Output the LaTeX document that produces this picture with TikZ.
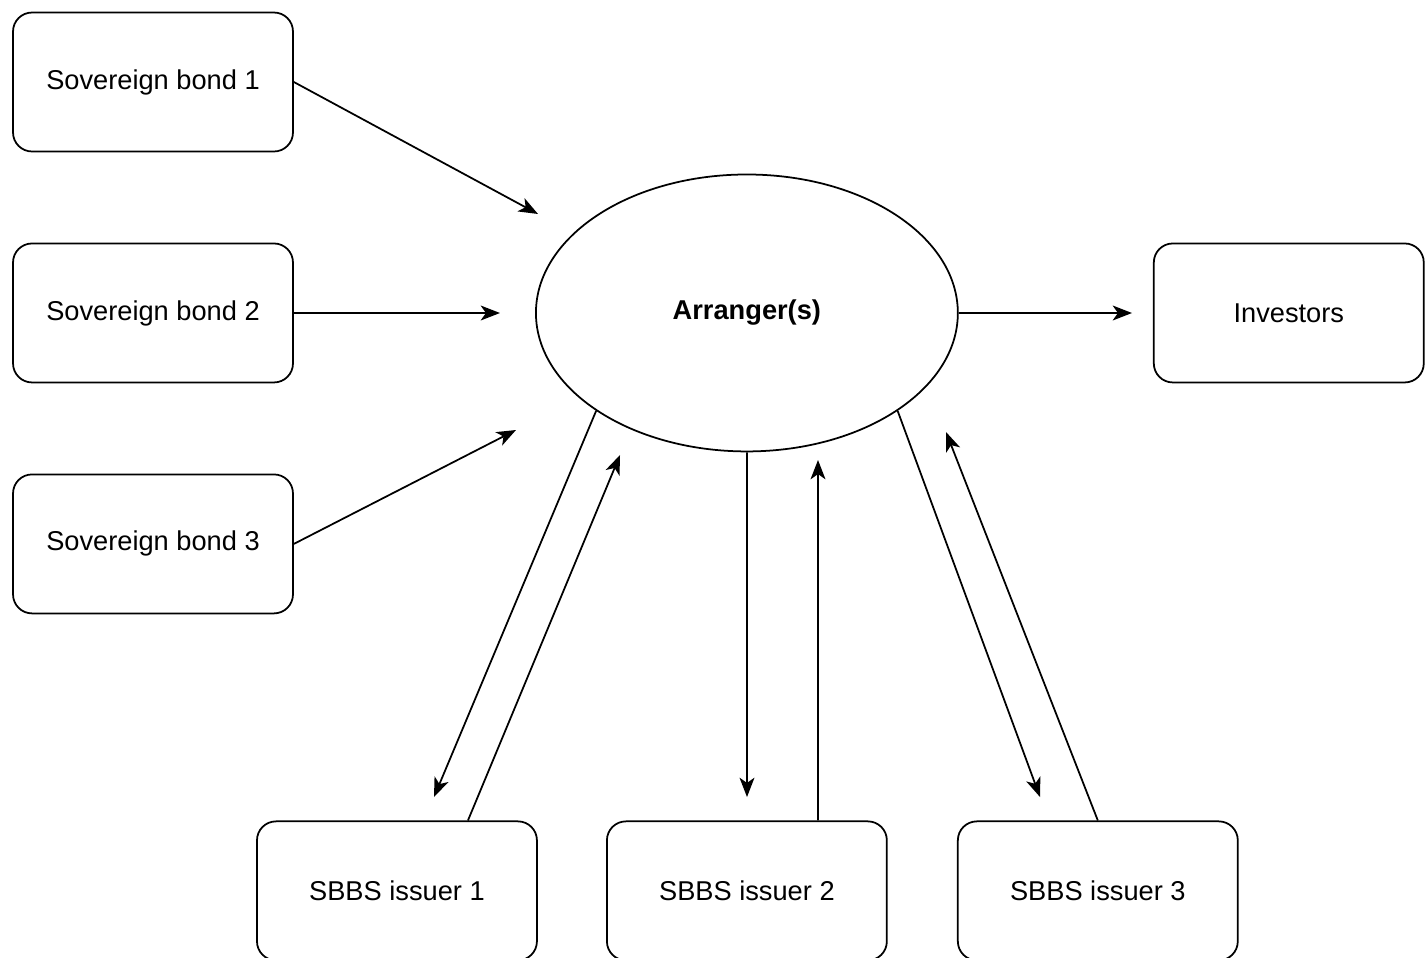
\documentclass[tikz,border=0pt]{standalone}
\usepackage{fontspec}
\setmainfont{Liberation Sans}
\usetikzlibrary{shapes.geometric,arrows.meta,positioning}
\begin{document}
\begin{tikzpicture}[x=0.02cm, y=-0.02cm, >={Stealth[length=11pt, width=8.5pt, inset=3pt]}]
		\tikzstyle{block} =[ draw, line width=1pt, minimum width=5.6cm, minimum height=2.78cm, text badly centered, rounded corners=0.38cm, font=\fontsize{15.5}{18}\selectfont];
		\tikzstyle{hub} =[ draw, line width=1pt, ellipse, minimum width=8.44cm, minimum height=5.54cm, font=\fontsize{15.5}{18}\selectfont\bfseries];
		\tikzstyle{link} =[->, line width=1pt];
		\useasboundingbox (0,0) rectangle (1425,957);
		\node[block] (sb1) at (153,82) {Sovereign bond 1};
		\node[block, below of = sb1, node distance=4.62cm] (sb2) {Sovereign bond 2};
		\node[block, below of = sb2, node distance=4.62cm] (sb3) {Sovereign bond 3};
		\node[hub, right of = sb2, node distance=11.88cm] (arranger) {Arranger(s)};
		\node[block, minimum width=5.4cm, right of = arranger, node distance=10.84cm] (investors) {Investors};
		\node[block, below of = arranger, node distance=11.56cm] (issuer2) {SBBS issuer 2};
		\node[block, left of = issuer2, node distance=7cm] (issuer1) {SBBS issuer 1};
		\node[block, right of = issuer2, node distance=7.02cm] (issuer3) {SBBS issuer 3};

		% free ends of the arrows near the arranger
		\coordinate (in1) at (538,214);
		\coordinate (in2) at (500,313);
		\coordinate (in3) at (516,430);
		\coordinate (out1) at (434,797);
		\coordinate (back1) at (620,455);
		\coordinate (out2) at (747,797);
		\coordinate (back2) at (818,460);
		\coordinate (out3) at (1040,797);
		\coordinate (back3) at (946,432);
		\coordinate (sell) at (1132,313);

		\draw[link] (sb1.east) -- (in1);
		\draw[link] (sb2.east) -- (in2);
		\draw[link] (sb3.east) -- (in3);
		\draw[link] (arranger.east) -- (sell);
		\draw[link] (arranger.213.4) -- (out1);
		\draw[link] ([xshift=1.42cm]issuer1.north) -- (back1);
		\draw[link] (arranger.south) -- (out2);
		\draw[link] ([xshift=1.42cm]issuer2.north) -- (back2);
		\draw[link] (arranger.327.3) -- (out3);
		\draw[link] (issuer3.north) -- (back3);
	\end{tikzpicture}
\end{document}
